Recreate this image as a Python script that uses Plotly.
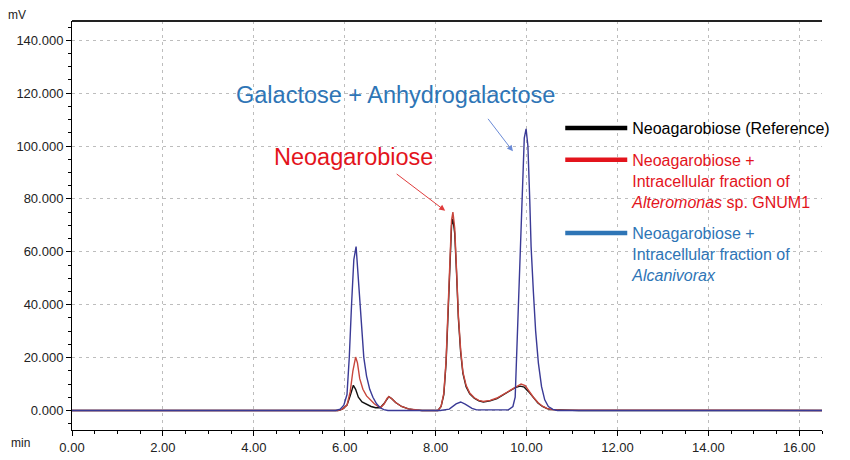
import plotly.graph_objects as go

# --- data (time in min, signal in mV) ---
ref_t = [0.0, 5.85, 5.95, 6.05, 6.12, 6.19, 6.24, 6.30, 6.38, 6.48, 6.58, 6.68, 6.78, 6.86, 6.93, 6.97,
         7.03, 7.12, 7.25, 7.40, 7.55, 7.70, 8.05, 8.12, 8.18, 8.23, 8.27, 8.31, 8.35, 8.38, 8.42,
         8.46, 8.50, 8.55, 8.60, 8.67, 8.75, 8.85, 8.95, 9.05, 9.20, 9.35, 9.50, 9.65, 9.75, 9.86,
         9.95, 10.05, 10.15, 10.25, 10.35, 10.45, 10.55, 10.70, 11.10, 11.15, 16.5]
ref_v = [0.0, 0.0, 0.5, 2.0, 5.5, 9.5, 8.0, 5.0, 3.2, 2.2, 1.5, 1.0, 1.0, 2.5, 4.5, 5.2,
         4.5, 3.0, 1.5, 0.6, 0.2, 0.0, 0.0, 1.5, 6.0, 18.0, 35.0, 55.0, 70.0, 72.5, 67.0,
         52.0, 35.0, 22.0, 14.0, 9.0, 6.3, 4.6, 3.6, 3.2, 3.6, 4.5, 6.0, 7.6, 8.6, 9.2,
         8.8, 7.0, 4.8, 2.8, 1.5, 0.7, 0.3, 0.2, 0.2, 0.0, 0.0]

alt_t = [0.0, 5.85, 5.95, 6.05, 6.12, 6.18, 6.24, 6.28, 6.33, 6.40, 6.48, 6.56, 6.65, 6.73, 6.80,
         6.87, 6.93, 6.97, 7.03, 7.12, 7.25, 7.40, 7.55, 7.70, 8.05, 8.12, 8.18, 8.23, 8.27, 8.31,
         8.35, 8.38, 8.42, 8.46, 8.50, 8.55, 8.60, 8.67, 8.75, 8.85, 8.95, 9.05, 9.20, 9.35, 9.50,
         9.65, 9.75, 9.88, 9.97, 10.05, 10.15, 10.25, 10.35, 10.45, 10.55, 10.70, 11.10, 11.15, 16.5]
alt_v = [0.0, 0.0, 0.5, 2.0, 7.0, 15.0, 20.2, 18.0, 12.0, 8.0, 5.5, 4.0, 2.5, 1.5, 1.2,
         2.5, 4.5, 5.2, 4.5, 3.0, 1.5, 0.6, 0.2, 0.0, 0.0, 1.5, 6.5, 19.0, 37.0, 57.0,
         72.0, 75.0, 69.0, 53.0, 36.0, 23.0, 14.5, 9.5, 6.6, 4.8, 3.8, 3.4, 3.8, 4.7, 6.2,
         7.9, 9.0, 10.0, 9.4, 7.4, 5.0, 3.0, 1.6, 0.8, 0.3, 0.2, 0.2, 0.0, 0.0]

alc_t = [0.0, 5.80, 5.90, 5.98, 6.05, 6.10, 6.15, 6.20, 6.25, 6.29, 6.33, 6.38, 6.42, 6.48, 6.55,
         6.62, 6.70, 6.78, 6.86, 6.95, 8.10, 8.30, 8.45, 8.55, 8.65, 8.80, 8.90, 9.60, 9.70, 9.75,
         9.80, 9.85, 9.90, 9.95, 9.99, 10.03, 10.07, 10.10, 10.15, 10.20, 10.26, 10.33, 10.40, 10.48,
         10.58, 10.68, 16.5]
alc_v = [0.0, 0.0, 0.5, 2.0, 6.0, 20.0, 40.0, 57.0, 62.0, 52.0, 40.0, 27.0, 20.0, 13.0, 8.0,
         5.0, 2.5, 1.0, 0.3, 0.0, 0.0, 0.5, 2.5, 3.2, 2.4, 0.8, 0.2, 0.2, 1.5, 5.0,
         30.0, 55.0, 85.0, 103.0, 106.5, 100.0, 80.0, 62.0, 45.0, 30.0, 18.0, 9.0, 4.0, 1.5,
         0.4, 0.0, 0.0]

series_names = [
    "Neoagarobiose (Reference)",
    "Neoagarobiose +<br>Intracellular fraction of<br><i>Alteromonas</i> sp. GNUM1",
    "Neoagarobiose +<br>Intracellular fraction of<br><i>Alcanivorax</i>",
]
x_ticks = [0, 2, 4, 6, 8, 10, 12, 14, 16]
y_ticks = [0, 20, 40, 60, 80, 100, 120, 140]

line_colors = ["#111111", "#c8463c", "#3a3a96"]
legend_colors = ["#000000", "#e3141c", "#2e75b6"]
text_colors = ["#000000", "#e3141c", "#2e75b6"]

fig = go.Figure()
# chromatogram traces (drawn order: reference, alteromonas, alcanivorax)
for t, v, c in [(ref_t, ref_v, line_colors[0]), (alt_t, alt_v, line_colors[1]), (alc_t, alc_v, line_colors[2])]:
    fig.add_trace(go.Scatter(x=t, y=v, mode="lines", line=dict(color=c, width=1.4),
                             showlegend=False, hoverinfo="skip"))

# legend entries
for i, name in enumerate(series_names):
    fig.add_trace(go.Scatter(
        x=[None], y=[None], mode="lines",
        line=dict(color=legend_colors[i], width=4.5),
        name=f'<span style="color:{text_colors[i]}">{name}</span>',
        legendgroup=f"g{i}", showlegend=True))

# the page body adds an 8px offset, so the figure is 8px smaller and margins shifted
fig.update_layout(
    width=842, height=452,
    margin=dict(l=64, r=28, t=13, b=30, autoexpand=False),
    paper_bgcolor="white", plot_bgcolor="white",
    font=dict(family="Liberation Sans, Arial, sans-serif", size=12, color="#222"),
    showlegend=True,
    legend=dict(x=0.651, y=0.78, xanchor="left", yanchor="top",
                bgcolor="rgba(0,0,0,0)", font=dict(size=16, family="Liberation Sans, Arial, sans-serif"),
                tracegroupgap=8, valign="top", itemwidth=62),
    xaxis=dict(range=[0, 16.5], tickvals=x_ticks, tickformat=".2f", automargin=False,
               showline=True, linecolor="black", linewidth=1,
               ticks="outside", ticklen=5, tickcolor="black",
               minor=dict(dtick=0.5, ticks="outside", ticklen=3, tickcolor="black", showgrid=False),
               showgrid=True, gridcolor="#bdbdbd", griddash="3px,4px", gridwidth=1,
               zeroline=False, tickfont=dict(size=13, color="#222")),
    yaxis=dict(range=[-7.4, 147.3], tickvals=y_ticks, tickformat=".3f", automargin=False,
               showline=True, linecolor="black", linewidth=1,
               ticks="outside", ticklen=5, tickcolor="black",
               minor=dict(dtick=5, ticks="outside", ticklen=3, tickcolor="black", showgrid=False),
               showgrid=True, gridcolor="#bdbdbd", griddash="3px,4px", gridwidth=1,
               zeroline=False, tickfont=dict(size=13, color="#222")),
)

# top frame line
fig.add_shape(type="line", xref="paper", yref="paper", x0=0, x1=1, y0=1, y1=1,
              line=dict(color="#222", width=2))

# axis unit labels
fig.add_annotation(xref="paper", yref="paper", x=-0.073, y=1.0, text="mV", showarrow=False,
                   xanchor="center", yanchor="bottom", yshift=-3, font=dict(size=12, color="#222"))
fig.add_annotation(xref="paper", yref="paper", x=-0.0685, y=0, text="min", showarrow=False,
                   xanchor="center", yanchor="top", yshift=-4, font=dict(size=12, color="#222"))

# peak labels
fig.add_annotation(x=7.12, y=119.5, text="Galactose + Anhydrogalactose", showarrow=False,
                   font=dict(size=23.5, color="#2e75b6", family="Liberation Sans, Arial, sans-serif"))
fig.add_annotation(x=6.2, y=96, text="Neoagarobiose", showarrow=False,
                   font=dict(size=23.5, color="#e3141c", family="Liberation Sans, Arial, sans-serif"))
# arrows
fig.add_annotation(x=8.21, y=75.5, text="", showarrow=True, arrowhead=2, arrowsize=1.2,
                   arrowwidth=1, arrowcolor="#e03c3c", ax=-50, ay=-38)
fig.add_annotation(x=9.70, y=98.0, text="", showarrow=True, arrowhead=2, arrowsize=1.2,
                   arrowwidth=1, arrowcolor="#6a8ad6", ax=-26, ay=-34)

fig.write_html("out.html")
